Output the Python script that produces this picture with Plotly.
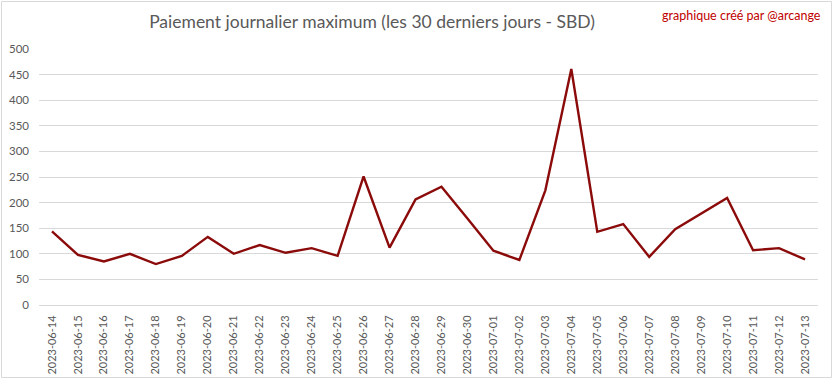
import plotly.graph_objects as go

dates = ["2023-06-14","2023-06-15","2023-06-16","2023-06-17","2023-06-18","2023-06-19","2023-06-20",
         "2023-06-21","2023-06-22","2023-06-23","2023-06-24","2023-06-25","2023-06-26","2023-06-27",
         "2023-06-28","2023-06-29","2023-06-30","2023-07-01","2023-07-02","2023-07-03","2023-07-04",
         "2023-07-05","2023-07-06","2023-07-07","2023-07-08","2023-07-09","2023-07-10","2023-07-11",
         "2023-07-12","2023-07-13"]
values = [144, 98, 85, 100, 80, 96, 133, 100, 117, 102, 111, 96, 251, 112, 206, 231, 169, 106, 88, 224,
          461, 143, 158, 94, 148, 179, 209, 107, 111, 89]
y_ticks = [0, 50, 100, 150, 200, 250, 300, 350, 400, 450, 500]

title_text = "Paiement journalier maximum (les 30 derniers jours - SBD)"
credit_text = "graphique créé par @arcange"

FONT = "Lato, 'Open Sans', sans-serif"

L, R, T, B = 39, 15, 49, 74
W, H = 833, 379
PW, PH = W - L - R, H - T - B

fig = go.Figure()
fig.add_trace(go.Scatter(
    x=dates, y=values, mode="lines",
    line=dict(color="#8b0a0a", width=2.4),
    hoverinfo="x+y",
))

fig.update_layout(
    width=W, height=H,
    margin=dict(l=L, r=R, t=T, b=B),
    paper_bgcolor="white", plot_bgcolor="white",
    showlegend=False,
    font=dict(family=FONT, color="#595959", size=11),
    title=dict(text=title_text, x=372/W, xref="container", xanchor="center",
               y=1 - 22/H, yref="container", yanchor="middle",
               font=dict(family=FONT, size=17.5, color="#595959")),
    xaxis=dict(type="category", range=[-0.5, len(dates) - 0.5], tickangle=-90,
               showgrid=False, showline=True, automargin=False,
               linecolor="#d9d9d9", linewidth=1, ticks="", ticklabelstandoff=5,
               tickfont=dict(size=11, color="#595959", family=FONT), fixedrange=True),
    yaxis=dict(range=[0, 500], tickvals=y_ticks, showgrid=True, gridcolor="#d9d9d9",
               gridwidth=1, zeroline=False, showline=False, ticks="", automargin=False,
               ticklabelstandoff=9,
               tickfont=dict(size=11.5, color="#595959", family=FONT), fixedrange=True),
    annotations=[dict(text=credit_text, xref="paper", yref="paper",
                      x=(823 - L) / PW, xanchor="right",
                      y=1 + (T - 15) / PH, yanchor="middle", showarrow=False,
                      font=dict(family=FONT, size=12.5, color="#c00000"))],
    shapes=[dict(type="rect", xref="paper", yref="paper",
                 x0=(1.5 - L) / PW, x1=(831.5 - L) / PW,
                 y0=-(B - 1.5) / PH,
                 y1=(H - 1.5 - B) / PH,
                 line=dict(color="#d9d9d9", width=1), layer="below")],
)

fig.write_html("out.html", config={"displayModeBar": False},
               post_script="document.body.style.margin='0';document.body.style.overflow='hidden';")
